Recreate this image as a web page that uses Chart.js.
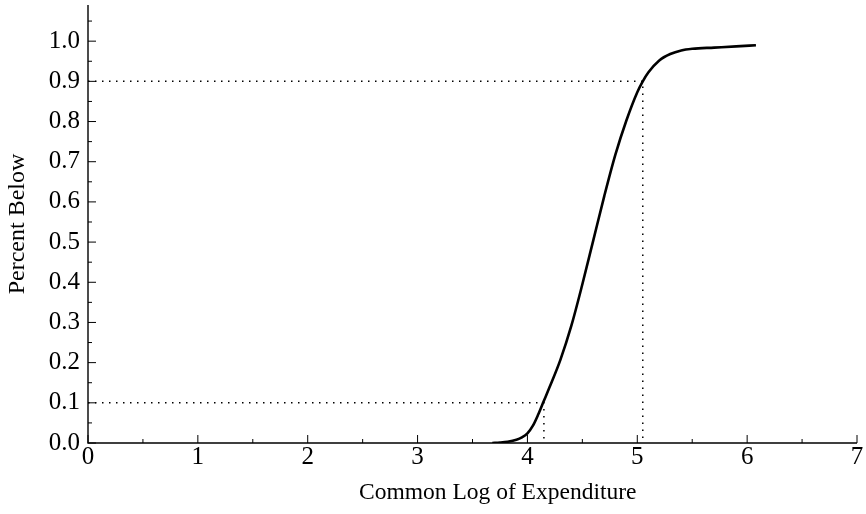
<!DOCTYPE html>
<html>
<head>
<meta charset="utf-8">
<script src="https://cdn.jsdelivr.net/npm/chart.js@4.4.1/dist/chart.umd.min.js"></script>
<style>
  html, body { margin: 0; padding: 0; background: #fff; }
  #wrap { width: 866px; height: 514px; }
</style>
</head>
<body>
<div id="wrap"><canvas id="c" width="866" height="514"></canvas></div>
<script>
// Cumulative distribution of log10 expenditure
const logExpenditure = [3.68, 3.75, 3.82, 3.90, 3.95, 4.00, 4.05, 4.10, 4.15, 4.20, 4.30, 4.40, 4.50, 4.60, 4.70, 4.80, 4.90, 5.00, 5.05, 5.10, 5.20, 5.30, 5.40, 5.50, 5.70, 5.90, 6.08];
const percentBelow   = [0.000, 0.001, 0.003, 0.008, 0.014, 0.024, 0.043, 0.072, 0.105, 0.138, 0.207, 0.292, 0.395, 0.505, 0.615, 0.717, 0.802, 0.873, 0.900, 0.922, 0.952, 0.968, 0.977, 0.981, 0.984, 0.987, 0.990];

// Reference guides: 10th and 90th percentiles
const lowerGuideX = [0, 4.15, 4.15];
const lowerGuideY = [0.1, 0.1, 0];
const upperGuideX = [0, 5.05, 5.05];
const upperGuideY = [0.9, 0.9, 0];

const xTickValues = [0, 1, 2, 3, 4, 5, 6, 7];
const yTickValues = [0.0, 0.1, 0.2, 0.3, 0.4, 0.5, 0.6, 0.7, 0.8, 0.9, 1.0];
const xTitle = 'Common Log of Expenditure';
const xTitleCenter = 3.73;

const pts = (xs, ys) => xs.map((x, i) => ({ x: x, y: ys[i] }));
const FONT = '"Liberation Serif", "DejaVu Serif", serif';

// Axis lines with inward major/minor tick marks, plus the x-axis caption
const axesPlugin = {
  id: 'inwardAxes',
  afterDatasetsDraw(chart) {
    const { ctx, scales: { x, y } } = chart;
    const x0 = x.getPixelForValue(0);
    const y0 = y.getPixelForValue(0);
    ctx.save();
    ctx.strokeStyle = '#000';
    ctx.lineWidth = 1.4;
    ctx.beginPath();
    ctx.moveTo(x0, y.top);
    ctx.lineTo(x0, y0);
    ctx.lineTo(x.getPixelForValue(7), y0);
    ctx.stroke();
    ctx.lineWidth = 1;
    ctx.beginPath();
    for (let v = 0; v <= 14; v++) {
      const px = x.getPixelForValue(v / 2);
      const len = v % 2 === 0 ? 8 : 4;
      ctx.moveTo(px, y0);
      ctx.lineTo(px, y0 - len);
    }
    for (let v = 0; v <= 21; v++) {
      const py = y.getPixelForValue(v / 20);
      const len = v % 2 === 0 ? 8 : 4;
      ctx.moveTo(x0, py);
      ctx.lineTo(x0 + len, py);
    }
    ctx.stroke();

    ctx.fillStyle = '#000';
    ctx.font = '23.5px ' + FONT;
    ctx.textAlign = 'center';
    ctx.textBaseline = 'alphabetic';
    ctx.fillText(xTitle, x.getPixelForValue(xTitleCenter), 499);
    ctx.restore();
  }
};

new Chart(document.getElementById('c'), {
  type: 'line',
  data: {
    datasets: [
      {
        data: pts(logExpenditure, percentBelow),
        borderColor: '#000',
        borderWidth: 2.6,
        pointRadius: 0,
        cubicInterpolationMode: 'monotone',
        fill: false
      },
      {
        data: pts(lowerGuideX, lowerGuideY),
        borderColor: '#000',
        borderWidth: 1.5,
        borderDash: [1.5, 5.5],
        pointRadius: 0,
        tension: 0,
        fill: false
      },
      {
        data: pts(upperGuideX, upperGuideY),
        borderColor: '#000',
        borderWidth: 1.5,
        borderDash: [1.5, 5.5],
        pointRadius: 0,
        tension: 0,
        fill: false
      }
    ]
  },
  options: {
    responsive: false,
    animation: false,
    layout: { padding: { top: 5, right: 9, left: 0, bottom: 0 } },
    plugins: { legend: { display: false }, tooltip: { enabled: false } },
    scales: {
      x: {
        type: 'linear',
        min: 0,
        max: 7,
        grid: { display: false },
        border: { display: false },
        afterBuildTicks: s => { s.ticks = xTickValues.map(v => ({ value: v })); },
        afterFit: s => { s.height = 71; },
        ticks: {
          padding: -9,
          color: '#000',
          font: { family: FONT, size: 25 },
          callback: v => String(v)
        },
        title: { display: false }
      },
      y: {
        type: 'linear',
        min: 0,
        max: 1.09,
        grid: { display: false },
        border: { display: false },
        afterBuildTicks: s => { s.ticks = yTickValues.map(v => ({ value: v })); },
        afterFit: s => { s.width = 88; s.paddingTop = 0; s.paddingBottom = 0; },
        ticks: {
          padding: 0,
          color: '#000',
          font: { family: FONT, size: 25 },
          callback: v => Number(v).toFixed(1)
        },
        title: {
          display: true,
          text: 'Percent Below',
          color: '#000',
          font: { family: FONT, size: 24 },
          padding: { top: 3, bottom: 0 }
        }
      }
    }
  },
  plugins: [axesPlugin]
});
</script>
</body>
</html>
